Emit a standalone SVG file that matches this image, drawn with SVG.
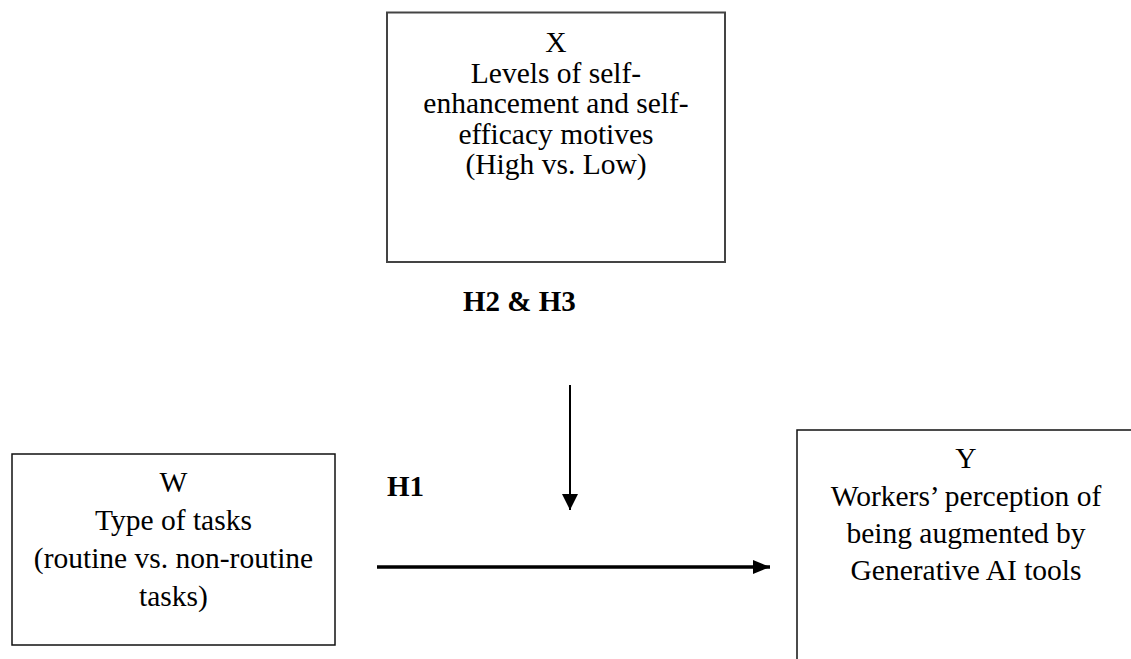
<svg xmlns="http://www.w3.org/2000/svg" width="1131" height="659" viewBox="0 0 1131 659">
<style>
.box{fill:#fff;stroke:#111;stroke-width:1.5}
.t{font-family:"Liberation Serif","Times New Roman",serif;font-size:29.5px;fill:#000;text-anchor:middle}
.b{font-family:"Liberation Serif","Times New Roman",serif;font-size:29px;font-weight:bold;fill:#000}
.ln{stroke:#000;fill:none}
</style>
<defs>
<marker id="ahV" markerUnits="userSpaceOnUse" markerWidth="18" markerHeight="18" refX="16" refY="8" orient="auto">
<path d="M0,0 L16,8 L0,16 Z" fill="#000"/>
</marker>
<marker id="ahH" markerUnits="userSpaceOnUse" markerWidth="18" markerHeight="16" refX="17" refY="7" orient="auto">
<path d="M0,0 L17,7 L0,14 Z" fill="#000"/>
</marker>
</defs>
<rect width="1131" height="659" fill="#fff"/>
<g id="node-x">
<rect class="box" x="387" y="12.5" width="338" height="249.5" style="stroke:#444;stroke-width:2"/>
<text class="t" x="556" y="52">X</text>
<text class="t" x="556" y="83">Levels of self-</text>
<text class="t" x="556" y="113">enhancement and self-</text>
<text class="t" x="556" y="144">efficacy motives</text>
<text class="t" x="556" y="174">(High vs. Low)</text>
</g>
<g id="node-w">
<rect class="box" x="12" y="454" width="323" height="191"/>
<text class="t" x="173.5" y="492">W</text>
<text class="t" x="173.5" y="530">Type of tasks</text>
<text class="t" x="173.5" y="568">(routine vs. non-routine</text>
<text class="t" x="173.5" y="606">tasks)</text>
</g>
<g id="node-y">
<rect class="box" x="797" y="430" width="340" height="240"/>
<text class="t" x="966" y="468">Y</text>
<text class="t" x="966" y="506">Workers’ perception of</text>
<text class="t" x="966" y="543">being augmented by</text>
<text class="t" x="966" y="580">Generative AI tools</text>
</g>
<g id="labels">
<text class="b" x="463" y="311">H2 &amp; H3</text>
<text class="b" x="387" y="496">H1</text>
</g>
<g id="connectors">
<line class="ln" x1="570" y1="385" x2="570" y2="510" stroke-width="2" marker-end="url(#ahV)"/>
<line class="ln" x1="377" y1="567" x2="770" y2="567" stroke-width="3.5" marker-end="url(#ahH)"/>
</g>
</svg>
